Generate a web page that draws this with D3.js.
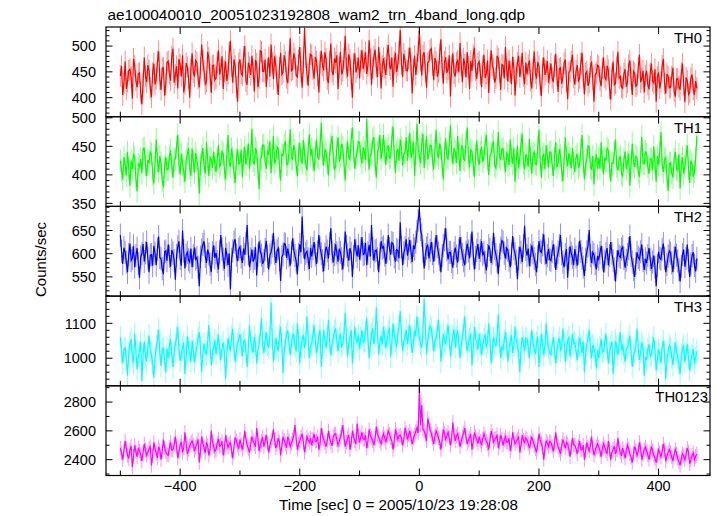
<!DOCTYPE html>
<html>
<head>
<meta charset="utf-8">
<script src="https://cdn.jsdelivr.net/npm/d3@7"></script>
<style>
  html, body { margin: 0; padding: 0; background: #fff; }
  svg { display: block; }
  text { font-family: "Liberation Sans", Arial, Helvetica, sans-serif; fill: #000; }
</style>
</head>
<body>
<svg id="chart" width="717" height="516"></svg>
<script>
// ---------------- data ----------------
const titleText = "ae100040010_20051023192808_wam2_trn_4band_long.qdp";
const xLabelText = "Time [sec] 0 = 2005/10/23 19:28:08";
const yLabelText = "Counts/sec";

const timeStart = -500;   // first bin time [s]
const binSec = 2;         // bin width [s]

const panelNames = ["TH0", "TH1", "TH2", "TH3", "TH0123"];

const th0 = [
 442,461,405,428,470,417,431,452,455,440,398,475,462,433,420,446,448,410,387,430,
 478,441,430,463,452,419,401,448,466,425,437,470,490,436,415,457,458,404,426,468,
 471,446,433,480,495,429,444,461,418,475,463,441,482,410,427,467,459,438,400,455,
 486,449,441,472,468,437,420,458,503,471,452,426,431,489,477,445,409,462,463,434,
 438,468,492,445,455,480,417,452,470,433,446,487,510,461,429,474,461,421,392,466,
 474,447,443,479,500,432,425,468,459,444,481,455,412,473,466,420,438,491,489,451,
 451,474,420,456,478,441,503,467,436,480,462,429,405,458,487,445,449,482,470,438,
 428,470,515,452,455,486,476,443,440,472,498,451,419,466,535,478,447,423,466,484,
 482,455,437,479,470,443,410,468,491,462,453,488,475,436,428,470,505,451,444,476,
 468,482,417,459,489,445,452,476,520,458,441,484,473,437,400,466,486,449,458,477,
 437,471,492,455,470,488,446,462,511,474,425,458,480,493,459,440,498,467,418,461,
 476,458,444,483,502,463,455,478,421,469,487,450,463,489,531,466,440,485,472,453,
 452,476,497,462,408,455,481,444,466,490,530,472,443,481,488,451,419,468,470,492,
 495,463,434,477,469,441,450,485,513,459,427,470,478,448,455,482,402,461,486,447,
 441,468,472,449,506,462,430,476,464,439,488,460,417,471,452,482,497,453,436,466,
 470,446,420,461,483,438,447,472,409,458,492,463,455,429,438,481,476,450,415,464,
 462,437,498,455,431,472,450,426,479,458,404,447,468,481,440,459,487,442,426,468,
 445,463,472,433,418,455,490,448,437,469,461,425,403,457,478,444,452,471,429,447,
 466,438,430,461,485,443,411,456,458,427,440,467,474,432,397,449,452,470,483,439,
 425,452,463,431,438,466,487,440,406,447,451,423,430,460,470,436,392,444,448,463,
 461,434,422,457,478,440,435,462,453,418,396,446,470,425,428,459,489,438,441,420,
 418,446,455,421,430,463,472,436,405,451,447,422,425,458,483,430,437,452,410,443,
 452,425,416,447,466,432,428,455,392,440,449,418,431,462,475,427,408,446,441,419,
 420,441,458,412,402,436,437,421,415,448,466,425,391,439,433,406,410,437,445,416,
 405,432,418
];

const th1 = [
 425,408,392,431,418,399,440,412,381,425,410,437,430,394,371,419,415,428,403,446,
 447,417,398,426,421,440,436,402,385,419,462,425,405,433,420,391,378,414,431,409,
 410,432,443,416,395,427,428,449,470,421,401,436,419,406,388,425,437,447,412,398,
 446,423,404,438,425,410,367,419,433,447,415,402,458,426,398,431,427,412,441,418,
 405,428,452,415,419,441,437,408,392,433,470,421,414,446,430,404,386,427,445,419,
 421,444,396,430,449,418,432,455,410,436,481,425,418,447,440,411,375,428,431,452,
 452,424,411,441,437,459,403,433,468,420,425,449,446,415,390,436,434,452,459,418,
 418,441,480,429,427,452,443,416,398,438,456,427,420,461,437,419,408,445,471,433,
 445,425,407,439,462,431,428,452,491,437,416,444,440,421,399,436,453,468,429,410,
 414,447,466,423,432,454,448,419,390,437,459,430,427,462,483,441,411,429,442,458,
 457,433,420,448,441,426,498,445,409,436,438,461,466,422,395,439,447,470,428,443,
 470,440,418,446,452,429,431,464,485,433,404,441,446,425,462,448,416,437,439,466,
 425,449,474,430,440,458,398,437,489,446,433,420,455,472,412,441,468,427,436,452,
 451,426,410,443,479,436,430,455,446,418,392,437,464,431,428,456,487,440,419,447,
 440,421,468,437,407,446,452,428,425,459,483,430,414,444,441,418,396,435,460,427,
 418,440,449,423,431,455,470,428,400,434,438,452,459,416,412,437,475,431,427,445,
 446,422,405,438,434,417,462,433,419,447,388,425,451,412,429,455,472,420,410,436,
 431,414,463,428,402,436,440,419,418,449,479,427,395,431,437,410,452,433,413,440,
 440,418,398,430,458,413,421,445,434,407,389,425,466,431,415,438,429,412,447,420,
 405,431,437,412,418,444,470,422,392,417,428,451,449,413,410,433,383,424,436,411,
 430,411,457,424,401,430,425,447,443,412,389,421,420,440,462,415,408,427,433,402,
 398,426,441,410,422,437,381,418,455,423,414,432,430,405,396,428,467,420,419,441,
 436,414,402,428,427,409,450,421,388,433,418,440,475,417,405,426,430,398,372,420,
 421,404,395,427,440,410,408,436,376,418,431,402,415,433,452,411,386,425,419,397,
 405,428,468
];

const th2 = [
 640,605,578,613,603,582,560,598,622,585,590,617,571,596,612,579,548,593,600,621,
 583,602,625,590,560,597,598,574,617,601,575,610,637,592,589,568,556,604,606,585,
 620,594,572,608,601,585,544,596,615,627,590,574,650,606,568,597,603,587,582,611,
 571,596,613,588,592,571,530,593,608,620,627,594,580,609,599,577,560,602,618,591,
 602,583,566,604,640,610,588,567,612,598,575,601,523,588,606,625,631,597,584,610,
 615,593,580,611,598,622,662,600,571,589,609,583,590,614,553,596,626,605,597,578,
 585,609,628,594,566,597,603,617,645,601,580,606,612,587,541,593,598,622,620,591,
 611,596,574,603,633,608,596,584,555,598,620,603,680,615,588,601,605,589,567,612,
 594,611,625,597,578,604,640,612,600,585,562,599,615,606,590,622,655,604,581,598,
 620,602,583,611,603,589,566,598,648,616,597,585,612,601,550,593,631,607,594,618,
 587,610,636,598,600,623,575,602,619,594,662,611,585,606,608,589,560,600,627,612,
 615,597,578,606,640,611,598,624,622,593,583,609,607,590,668,614,575,602,612,631,
 596,611,630,604,582,618,610,625,648,672,695,652,640,605,568,598,612,620,590,607,
 625,600,583,609,640,615,601,587,560,596,617,630,655,609,588,603,603,583,570,601,
 613,595,581,608,636,612,598,585,575,603,622,606,590,618,648,600,566,592,607,621,
 589,607,627,598,603,581,564,596,618,609,580,601,645,611,598,584,556,597,612,628,
 625,601,590,612,607,586,571,599,638,611,600,584,545,590,615,603,582,617,660,609,
 596,611,573,597,618,602,590,577,560,594,627,606,603,619,642,601,578,596,610,588,
 585,604,620,595,565,591,603,618,640,600,582,571,598,610,548,589,616,601,592,575,
 610,593,574,601,628,605,590,571,552,588,604,617,651,596,580,603,598,579,566,595,
 588,602,617,591,560,584,600,612,575,596,625,601,585,567,540,582,608,595,592,610,
 615,590,570,586,598,611,638,597,582,566,550,579,603,592,588,604,620,585,565,589,
 580,596,612,588,567,582,596,571,530,575,604,591,588,609,622,590,560,577,595,606,
 601,580,560,592,615,597,584,566,540,573,598,609,572,590,620,585,550,578,596,603,
 575,562,590
];

const th3 = [
 1060,1018,985,1025,1030,996,950,1012,1042,1055,1003,987,1070,1021,968,1005,1020,1048,935,1010,
 1048,1009,990,1032,1065,1020,1012,984,945,1003,1035,1051,1082,1016,978,1030,1026,997,960,1028,
 1000,1036,1055,1010,975,1018,1040,1060,1090,1025,992,1012,1030,1045,955,1008,1062,1029,1015,990,
 1050,1022,988,1016,1035,1058,1075,1030,960,1011,1042,1020,1010,1046,1095,1034,980,1015,1030,1052,
 1012,1040,1068,1025,995,1031,1045,1016,940,1008,1058,1037,1020,1062,1085,1028,990,1019,1040,1055,
 1070,1036,1005,1047,1052,1021,975,1030,1095,1048,1030,1016,1062,1039,985,1025,1040,1072,1115,1042,
 1015,1049,1075,1038,1030,1064,1160,1055,990,1027,1058,1034,1020,1066,1090,1041,958,1023,1045,1070,
 1080,1044,1010,1039,1062,1071,1035,1020,1100,1052,985,1031,1055,1067,1030,1048,1120,1059,1000,1036,
 1040,1068,1095,1046,1015,1037,1065,1081,975,1029,1080,1052,1030,1063,1110,1048,1008,1041,1060,1077,
 1085,1050,1020,1058,1070,1033,1040,1072,1130,1061,1005,1043,1062,1080,985,1030,1090,1055,1045,1066,
 1025,1058,1080,1046,1050,1077,1115,1059,1000,1041,1070,1086,1040,1062,1145,1073,1010,1048,1065,1039,
 1090,1061,1030,1052,1075,1088,1005,1043,1100,1066,1050,1031,1070,1094,1135,1067,1020,1049,1060,1082,
 1040,1069,1095,1054,1015,1046,1080,1063,1120,1087,1060,1041,1030,1076,1170,1089,1010,1052,1075,1093,
 1085,1057,1020,1048,1060,1079,1110,1062,990,1031,1070,1049,1040,1068,1095,1058,1005,1039,1065,1083,
 1030,1061,1080,1043,1000,1037,1065,1084,1120,1052,1020,1046,1055,1071,980,1028,1090,1057,1045,1024,
 1070,1041,1010,1038,1055,1069,1030,1047,1100,1058,985,1026,1060,1044,1035,1066,1125,1050,1000,1033,
 1025,1052,1075,1039,990,1028,1050,1066,1015,1037,1090,1054,1035,1018,960,1029,1060,1045,1020,1058,
 1055,1033,1000,1041,1080,1046,1025,1011,1045,1063,975,1022,1070,1042,1010,1036,1100,1049,1030,1015,
 1010,1038,1060,1027,985,1019,1045,1058,1020,1034,1085,1046,990,1025,1050,1062,1005,1031,1070,1042,
 1045,1021,995,1033,1060,1037,1015,1048,960,1012,1040,1056,1080,1029,1000,1038,1030,1011,970,1024,
 1000,1031,1055,1017,1020,1043,1070,1028,985,1016,1035,1048,955,1006,1050,1032,1010,1041,1075,1022,
 1040,1013,990,1027,1030,1046,1065,1019,975,1008,1020,1035,1085,1027,995,1016,1045,1031,950,1004,
 995,1027,1040,1006,1010,1035,1060,1021,965,998,1025,1012,985,1030,1050,1018,940,995,1020,1037,
 1030,1004,980,1017,1045,1021,1000,985,955,1009,1025,1038,990,1012,1040,1003,965,992,1010,1026,
 985,1002,1020
];

const th0123 = [
 2480,2445,2400,2462,2530,2478,2430,2408,2470,2495,2350,2425,2500,2456,2420,2483,2460,2437,2390,2452,
 2510,2468,2430,2451,2475,2490,2360,2428,2520,2474,2445,2412,2490,2467,2400,2459,2540,2483,2455,2436,
 2430,2487,2520,2466,2470,2505,2560,2492,2410,2458,2500,2524,2450,2481,2590,2513,2440,2470,2495,2518,
 2530,2502,2460,2487,2510,2541,2380,2465,2560,2511,2480,2446,2520,2498,2430,2472,2600,2523,2490,2457,
 2470,2516,2545,2492,2500,2527,2430,2478,2570,2521,2485,2510,2520,2463,2410,2486,2555,2532,2500,2474,
 2540,2505,2470,2518,2600,2543,2500,2476,2450,2509,2560,2531,2510,2489,2620,2547,2460,2498,2530,2556,
 2490,2527,2570,2513,2450,2496,2530,2552,2610,2538,2480,2505,2550,2523,2430,2494,2560,2535,2510,2482,
 2560,2532,2490,2514,2540,2567,2640,2545,2470,2508,2530,2556,2580,2519,2450,2503,2560,2538,2520,2549,
 2500,2541,2580,2526,2530,2559,2470,2512,2620,2565,2540,2517,2490,2533,2600,2548,2520,2496,2560,2575,
 2580,2536,2500,2527,2560,2588,2640,2553,2490,2521,2550,2572,2470,2515,2600,2561,2530,2508,2650,2566,
 2520,2557,2590,2543,2540,2571,2480,2526,2610,2568,2550,2531,2500,2548,2630,2575,2560,2529,2510,2553,
 2580,2551,2520,2563,2600,2577,2550,2532,2470,2528,2610,2574,2540,2566,2570,2549,2500,2541,2620,2587,
 2540,2572,2600,2553,2510,2548,2570,2596,2620,2585,2900,2640,2780,2610,2600,2568,2530,2685,2650,2604,
 2580,2547,2510,2562,2600,2578,2550,2521,2470,2536,2610,2583,2540,2565,2590,2552,2500,2548,2660,2571,
 2530,2563,2580,2542,2490,2527,2560,2584,2620,2556,2510,2535,2550,2578,2470,2521,2590,2561,2540,2512,
 2560,2528,2500,2546,2580,2553,2530,2509,2470,2532,2600,2567,2520,2541,2550,2574,2480,2519,2570,2544,
 2500,2536,2560,2522,2520,2549,2460,2505,2590,2541,2510,2528,2540,2563,2450,2497,2570,2535,2520,2551,
 2540,2512,2480,2523,2560,2531,2500,2476,2450,2508,2580,2539,2510,2486,2400,2478,2530,2515,2490,2527,
 2520,2493,2460,2508,2590,2521,2490,2467,2440,2496,2540,2512,2480,2519,2510,2474,2420,2485,2550,2503,
 2500,2477,2440,2493,2530,2468,2470,2501,2400,2459,2520,2486,2460,2497,2560,2482,2430,2465,2490,2511,
 2490,2462,2420,2478,2510,2485,2460,2439,2530,2472,2400,2451,2470,2493,2440,2467,2550,2481,2450,2426,
 2480,2449,2410,2463,2500,2474,2440,2418,2380,2442,2490,2466,2430,2458,2520,2477,2400,2437,2470,2488,
 2460,2433,2400,2451,2490,2462,2430,2409,2380,2428,2470,2448,2420,2456,2510,2467,2390,2424,2450,2471,
 2450,2418,2390,2437,2470,2444,2410,2386,2360,2411,2440,2425,2400,2436,2480,2452,2370,2398,2430,2447,
 2400,2423,2440
];

const seriesValues = [th0, th1, th2, th3, th0123];
// typical 1-sigma error of one bin, per band (read from the light error-bar tint)
const yErrors = [21, 20, 25, 32, 50];

// axis ranges and ticks
const xDomain = [-524, 486];
const xTickValues = [-500, -400, -300, -200, -100, 0, 100, 200, 300, 400];
const xTickLabels = [-400, -200, 0, 200, 400];

const yDomains = [[363, 537], [344.7, 502], [508.6, 702], [921, 1178], [2290, 2913]];
const yTickLabels = [[400, 450, 500], [350, 400, 450, 500], [550, 600, 650], [1000, 1100], [2400, 2600, 2800]];
const yMinorSteps = [10, 10, 10, 20, 100];

// ---------------- style / layout ----------------
const panelColors = ["#ff0000", "#00ff00", "#0000ff", "#00ffff", "#ff00ff"];
const labelRight = [702, 702, 702, 702, 708];

const W = 717, H = 516;
const plotL = 106, plotR = 710, plotT = 27, plotB = 475.5;
const nP = panelNames.length;
const panelH = (plotB - plotT) / nP;

const svg = d3.select("#chart");
svg.append("rect").attr("width", W).attr("height", H).attr("fill", "#fff");

const x = d3.scaleLinear().domain(xDomain).range([plotL, plotR]);
const fmtMinus = v => (v < 0 ? "\u2212" + Math.abs(v) : String(v));

const defs = svg.append("defs");

for (let p = 0; p < nP; p++) {
  const y0 = plotT + p * panelH, y1 = y0 + panelH;
  const y = d3.scaleLinear().domain(yDomains[p]).range([y1, y0]);
  const g = svg.append("g");

  defs.append("clipPath").attr("id", "clip" + p)
    .append("rect").attr("x", plotL).attr("y", y0).attr("width", plotR - plotL).attr("height", panelH);

  const vals = seriesValues[p];
  const pts = vals.map((v, i) => [timeStart + i * binSec, v]);
  const err = yErrors[p];

  // error bars (light tint)
  const eb = g.append("g").attr("clip-path", "url(#clip" + p + ")");
  eb.selectAll("line").data(pts).join("line")
    .attr("x1", d => x(d[0])).attr("x2", d => x(d[0]))
    .attr("y1", d => y(d[1] - err)).attr("y2", d => y(d[1] + err))
    .attr("stroke", panelColors[p])
    .attr("stroke-opacity", 0.45)
    .attr("stroke-width", 1);

  // data line
  const line = d3.line().x(d => x(d[0])).y(d => y(d[1]));
  g.append("path")
    .attr("d", line(pts))
    .attr("fill", "none")
    .attr("stroke", panelColors[p])
    .attr("stroke-width", 1.2)
    .attr("stroke-linejoin", "miter")
    .attr("clip-path", "url(#clip" + p + ")");

  // frame
  g.append("rect").attr("x", plotL).attr("y", y0).attr("width", plotR - plotL).attr("height", panelH)
    .attr("fill", "none").attr("stroke", "#000").attr("stroke-width", 1.2);

  // x ticks (top & bottom, inward)
  xTickValues.forEach(t => {
    const len = (t % 200 === 0) ? 7 : 5;
    const xx = x(t);
    g.append("line").attr("x1", xx).attr("x2", xx).attr("y1", y0).attr("y2", y0 + len)
      .attr("stroke", "#000").attr("stroke-width", 1);
    g.append("line").attr("x1", xx).attr("x2", xx).attr("y1", y1).attr("y2", y1 - len)
      .attr("stroke", "#000").attr("stroke-width", 1);
  });

  // y ticks (left & right, inward)
  const [d0, d1] = yDomains[p];
  const step = yMinorSteps[p];
  const minor = d3.range(Math.ceil(d0 / step) * step, d1 + 1e-9, step);
  minor.forEach(v => {
    const major = yTickLabels[p].includes(v);
    const len = major ? 6.5 : 3.5;
    const yy = y(v);
    g.append("line").attr("x1", plotL).attr("x2", plotL + len).attr("y1", yy).attr("y2", yy)
      .attr("stroke", "#000").attr("stroke-width", 1);
    g.append("line").attr("x1", plotR).attr("x2", plotR - len).attr("y1", yy).attr("y2", yy)
      .attr("stroke", "#000").attr("stroke-width", 1);
  });

  // y tick labels
  yTickLabels[p].forEach(v => {
    g.append("text").attr("x", 96).attr("y", y(v)).attr("dy", "0.36em")
      .attr("text-anchor", "end").style("font-size", "14.5px").text(v);
  });

  // panel name
  g.append("text").attr("x", labelRight[p]).attr("y", y0 + 16)
    .attr("text-anchor", "end").style("font-size", "14.8px").text(panelNames[p]);
}

// x tick labels (bottom panel only)
xTickLabels.forEach(t => {
  svg.append("text").attr("x", x(t)).attr("y", 491)
    .attr("text-anchor", "middle").style("font-size", "14.5px").text(fmtMinus(t));
});

// title
svg.append("text").attr("x", 107.5).attr("y", 19.5).style("font-size", "15.4px").text(titleText);

// x label
svg.append("text").attr("x", 398.5).attr("y", 510)
  .attr("text-anchor", "middle").style("font-size", "15.2px").text(xLabelText);

// y label
svg.append("text").attr("transform", "translate(46,259.5) rotate(-90)")
  .attr("text-anchor", "middle").style("font-size", "15px").text(yLabelText);
</script>
</body>
</html>
